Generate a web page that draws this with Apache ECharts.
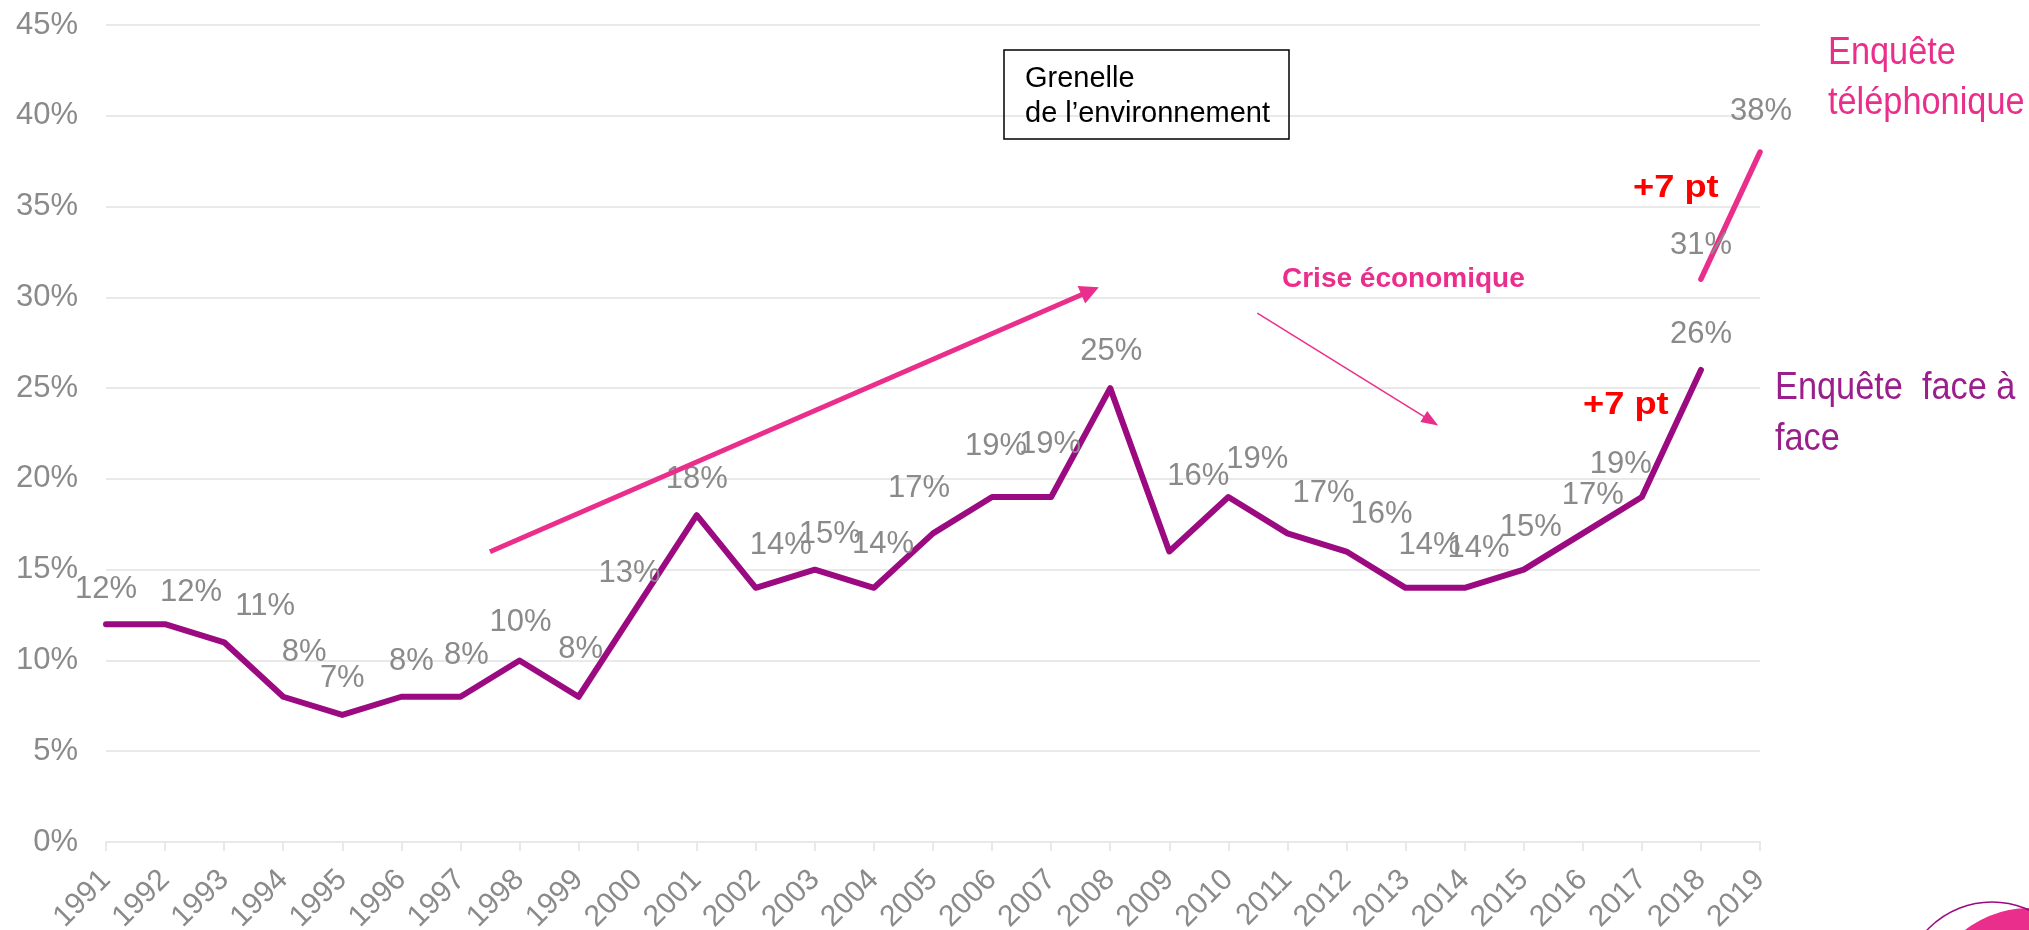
<!DOCTYPE html>
<html>
<head>
<meta charset="utf-8">
<script src="https://cdn.jsdelivr.net/npm/echarts@6/dist/echarts.min.js"></script>
<style>
html,body{margin:0;padding:0;background:#fff;}
#chart{width:2029px;height:930px;}
</style>
</head>
<body>
<div id="chart"></div>
<script>
// ---- data ----
const years = [1991,1992,1993,1994,1995,1996,1997,1998,1999,2000,2001,2002,2003,2004,2005,2006,2007,2008,2009,2010,2011,2012,2013,2014,2015,2016,2017,2018,2019];
const faceYears = [1991,1992,1993,1994,1995,1996,1997,1998,1999,2000,2001,2002,2003,2004,2005,2006,2007,2008,2009,2010,2011,2012,2013,2014,2015,2016,2017,2018];
const faceValues = [12,12,11,8,7,8,8,10,8,13,18,14,15,14,17,19,19,25,16,19,17,16,14,14,15,17,19,26];
const phoneYears = [2018,2019];
const phoneValues = [31,38];
const yTicks = [0,5,10,15,20,25,30,35,40,45];

// ---- layout (label nudges, annotation anchors) ----
const faceLabelNudge = [[0,-35],[26,-32],[41,-36],[21,-44],[0,-36],[10,-35],[6,-41],[1,-38],[2,-47],[-8,-33],[0,-36],[25,-42],[15,-35],[9,-43],[-14,-45],[4,-51],[-1,-53],[1,-37],[29,-75],[29,-38],[36,-40],[35,-37],[24,-42],[14,-39],[7,-42],[10,-38],[-21,-33],[0,-36]];
const phoneLabelNudge = [[0,-34],[1,-41]];
const trendArrow = [[1997.50,15.99],[2007.66,30.35]];
const crisisArrow = [[2010.49,29.13],[2013.43,23.19]];

const PINK = '#EA2E8B';
const PURPLE = '#9B0A80';
const PURPLE_TXT = '#9A1E8B';
const GRAY = '#8a8a8a';
const GRID = '#e9e9e9';
const FONT = "'Liberation Sans', Arial, sans-serif";

function buildData(xs, vs, nudges){
  return vs.map((v,i)=>({value:[xs[i], v], label:{offset:nudges[i]}}));
}

const chart = echarts.init(document.getElementById('chart'), null, {renderer:'canvas'});

function txt(x, y, text, size, color, opts){
  opts = opts || {};
  return {
    type:'text', x:x, y:y, scaleX: opts.scaleX || 1, z: 100,
    style:{
      text:text, fontSize:size, fontFamily:FONT, fontWeight: opts.bold ? 'bold' : 'normal',
      fill:color, textAlign:'left', align:'left', textVerticalAlign:'middle', verticalAlign:'middle'
    }
  };
}

const option = {
  animation:false,
  backgroundColor:'#ffffff',
  grid:{left:106, right:269, top:25, bottom:88, containLabel:false, outerBoundsMode:'none'},
  xAxis:{
    type:'value', min:1991, max:2019, interval:1,
    axisLine:{show:true, lineStyle:{color:GRID, width:2}},
    axisTick:{show:true, length:9, lineStyle:{color:GRID, width:2}},
    splitLine:{show:false},
    axisLabel:{
      rotate:45, fontSize:30, color:GRAY, fontFamily:FONT, margin:33,
      formatter:function(v){ return years.indexOf(v) >= 0 ? String(v) : ''; }
    }
  },
  yAxis:{
    type:'value', min:yTicks[0], max:yTicks[yTicks.length-1], interval:5,
    axisLine:{show:false}, axisTick:{show:false},
    splitLine:{show:true, lineStyle:{color:GRID, width:2}},
    axisLabel:{formatter:'{value}%', fontSize:31, color:GRAY, fontFamily:FONT, margin:28}
  },
  series:[
    {
      type:'line', name:'Enquête face à face',
      data:buildData(faceYears, faceValues, faceLabelNudge),
      symbol:'circle', symbolSize:1, showSymbol:true,
      lineStyle:{color:PURPLE, width:6, cap:'round', join:'round'},
      itemStyle:{color:PURPLE},
      label:{show:true, position:'inside', formatter:function(p){return p.value[1]+'%';}, fontSize:31, color:GRAY, fontFamily:FONT},
      emphasis:{disabled:true},
      z:3,
      markLine:{
        silent:true, animation:false,
        symbol:['none','triangle'],
        label:{show:false},
        emphasis:{disabled:true},
        data:[
          [
            {coord:trendArrow[0], lineStyle:{color:PINK, width:5, type:'solid'}},
            {coord:trendArrow[1], symbolSize:[19,19], lineStyle:{color:PINK, width:5, type:'solid'}}
          ],
          [
            {coord:crisisArrow[0], lineStyle:{color:PINK, width:1.5, type:'solid'}},
            {coord:crisisArrow[1], symbolSize:[13,17], lineStyle:{color:PINK, width:1.5, type:'solid'}}
          ]
        ]
      }
    },
    {
      type:'line', name:'Enquête téléphonique',
      data:buildData(phoneYears, phoneValues, phoneLabelNudge),
      symbol:'circle', symbolSize:1, showSymbol:true,
      lineStyle:{color:PINK, width:5.5, cap:'round'},
      itemStyle:{color:PINK},
      label:{show:true, position:'inside', formatter:function(p){return p.value[1]+'%';}, fontSize:31, color:GRAY, fontFamily:FONT},
      emphasis:{disabled:true},
      z:4
    }
  ],
  graphic:[
    {type:'rect', shape:{x:1004, y:50, width:285, height:89}, style:{fill:'rgba(0,0,0,0)', stroke:'#000', lineWidth:1.5}, z:100},
    txt(1025, 79.3, 'Grenelle', 29, '#000'),
    txt(1025, 113.7, 'de l’environnement', 29, '#000'),
    txt(1282, 279.6, 'Crise économique', 28, PINK, {bold:true}),
    txt(1828, 52.9, 'Enquête', 39, PINK, {scaleX:0.88}),
    txt(1828, 102.9, 'téléphonique', 39, PINK, {scaleX:0.88}),
    txt(1775, 387.9, 'Enquête  face à', 39, PURPLE_TXT, {scaleX:0.88}),
    txt(1775, 439.6, 'face', 39, PURPLE_TXT, {scaleX:0.88}),
    txt(1633, 188.4, '+7 pt', 31, '#FF0000', {bold:true, scaleX:1.17}),
    txt(1583, 405.4, '+7 pt', 31, '#FF0000', {bold:true, scaleX:1.17}),
    {type:'circle', shape:{cx:2029, cy:1012, r:104}, style:{fill:PINK}, z:99},
    {type:'circle', shape:{cx:1992, cy:991, r:89}, style:{fill:'none', stroke:PURPLE, lineWidth:1.5}, z:100}
  ]
};
chart.setOption(option);
</script>
</body>
</html>
